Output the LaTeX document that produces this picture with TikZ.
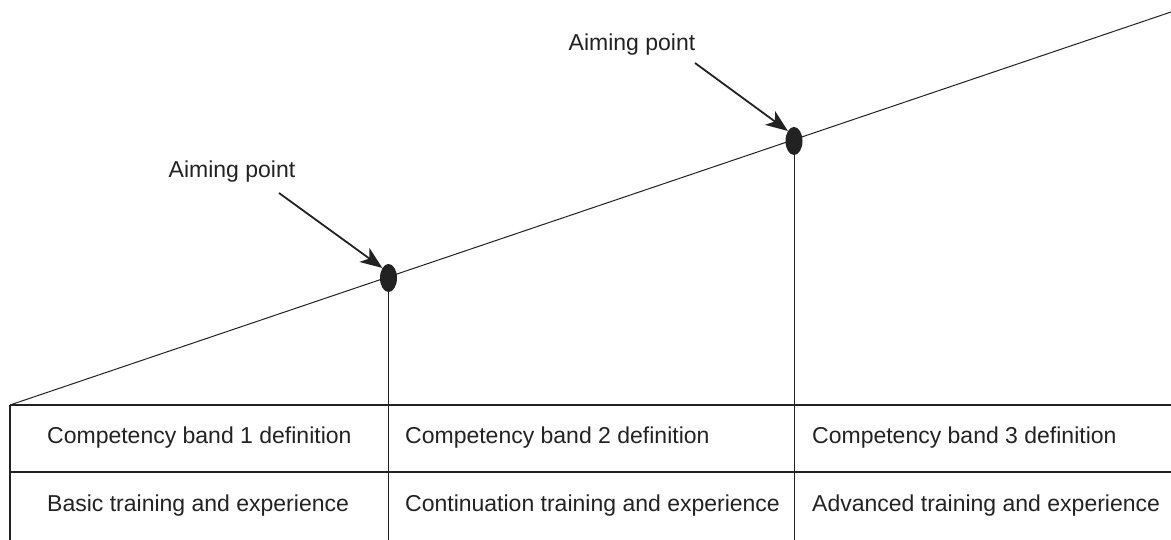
\documentclass[tikz,border=0pt]{standalone}
\usepackage{fontspec}
\setmainfont{Liberation Sans}
\usetikzlibrary{arrows.meta,shapes.geometric}
\definecolor{ink}{HTML}{222222}
\tikzset{
  rule/.style={draw=ink, line width=1.2pt},
  thin/.style={draw=ink, line width=1pt},
  lbl/.style={font=\fontsize{23}{27}\selectfont, text=ink, inner sep=0pt},
  dot/.style={ellipse, fill=ink, minimum width=17pt, minimum height=28pt, inner sep=0pt},
  pointer/.style={draw=ink, line width=1.8pt, -{Stealth[length=22pt, width=17pt, inset=6pt]}},
}
\begin{document}
\begin{tikzpicture}[x=1pt, y=-1pt]
\useasboundingbox (0,0) rectangle (1171,540);
% sloped line
\coordinate (s0) at (10,405);
\coordinate (s1) at (1171,12);
\draw[thin] (s0) -- (s1);
% dots
\node[dot] (d1) at (388.5,278) {};
\node[dot] (d2) at (794,141) {};
% table frame
\coordinate (tl) at (10,405);
\coordinate (tr) at (1171,405);
\coordinate (ml) at (10,472);
\coordinate (mr) at (1171,472);
\coordinate (bl) at (10,540);
\coordinate (b1) at (388.5,540);
\coordinate (b2) at (794,540);
\draw[rule] (tl) -- (tr);
\draw[rule] (ml) -- (mr);
\draw[rule] (tl) -- (bl);
\draw[thin] (d1.south) -- (b1);
\draw[thin] (d2.south) -- (b2);
% labels
\node[lbl] (a1) at (232,172) {Aiming point};
\node[lbl] (a2) at (632,45) {Aiming point};
\coordinate (a1s) at (279,193);
\coordinate (a2s) at (695,63);
\draw[pointer] (a1s) -- (d1.north west);
\draw[pointer] (a2s) -- (d2.north west);
% table text
\node[lbl, anchor=west] (c1) at (47,438) {Competency band 1 definition};
\node[lbl, anchor=west] (c2) at (405,438) {Competency band 2 definition};
\node[lbl, anchor=west] (c3) at (812,438) {Competency band 3 definition};
\node[lbl, anchor=west] (t1) at (47,506) {Basic training and experience};
\node[lbl, anchor=west] (t2) at (405,506) {Continuation training and experience};
\node[lbl, anchor=west] (t3) at (812,506) {Advanced training and experience};
\end{tikzpicture}
\end{document}
